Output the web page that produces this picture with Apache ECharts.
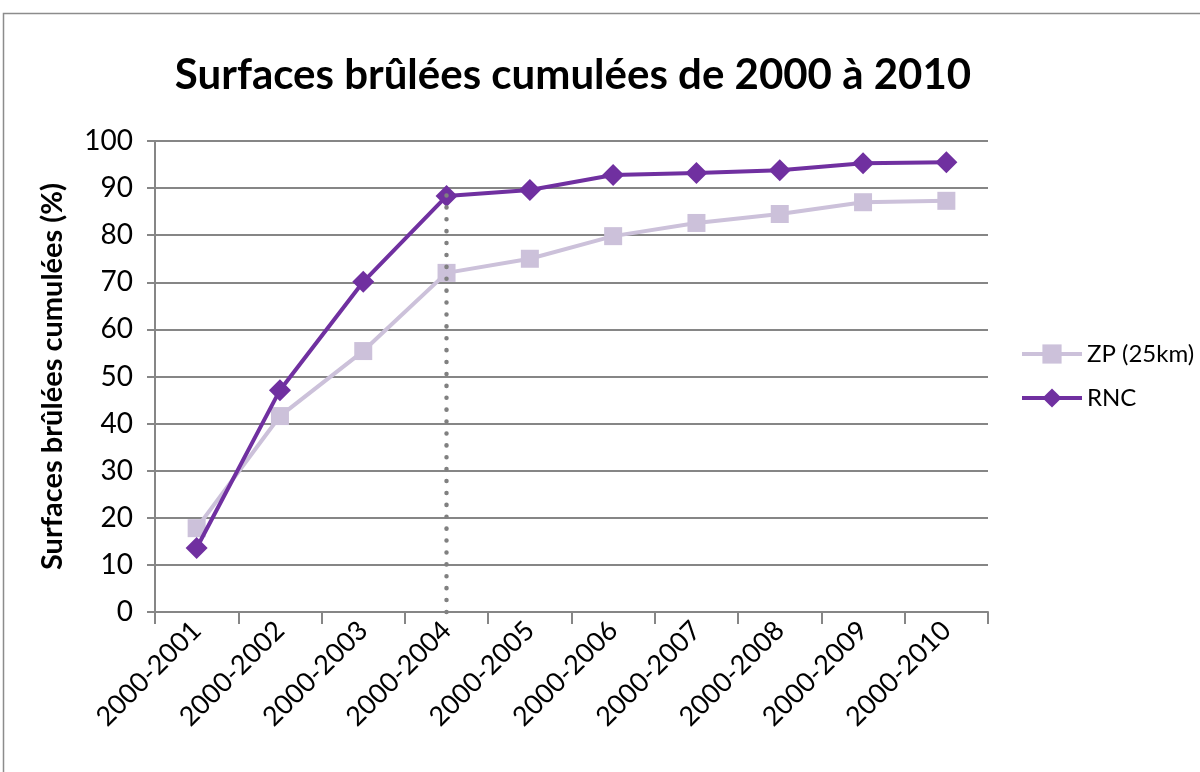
<!DOCTYPE html>
<html><head><meta charset="utf-8">
<script src="https://cdn.jsdelivr.net/npm/echarts@6/dist/echarts.min.js"></script>
<style>html,body{margin:0;padding:0;background:#fff}#c{width:1200px;height:772px}</style>
</head><body><div id="c"></div>
<script>
const categories = ['2000-2001','2000-2002','2000-2003','2000-2004','2000-2005','2000-2006','2000-2007','2000-2008','2000-2009','2000-2010'];
const zpValues = [17.8, 41.6, 55.4, 72.0, 75.0, 79.8, 82.6, 84.5, 87.0, 87.3];
const rncValues = [13.6, 47.1, 70.1, 88.3, 89.6, 92.8, 93.2, 93.8, 95.3, 95.5];
const markerCategory = '2000-2004';
const markerTop = 90;
const titleText = 'Surfaces brûlées cumulées de 2000 à 2010';
const yAxisName = 'Surfaces brûlées cumulées (%)';

const FONT = 'Lato, "Open Sans", sans-serif';
const chart = echarts.init(document.getElementById('c'));
chart.setOption({
  animation: false,
  backgroundColor: '#fff',
  graphic: [{type:'rect', shape:{x:3.5,y:13.5,width:1300,height:900}, style:{fill:'none', stroke:'#8c8c8c', lineWidth:1.5}, z:-1}],
  title: {text: titleText, left: 568, top: 49, textAlign: 'center',
    textStyle: {fontFamily: FONT, fontWeight: 'bold', fontSize: 42, color: '#000'}},
  legend: {orient: 'vertical', left: 1015, top: 337, itemGap: 20, itemWidth: 60, itemHeight: 24,
    lineStyle: {width: 4},
    textStyle: {fontFamily: FONT, fontSize: 24, color: '#000'},
    data: ['ZP (25km)', 'RNC']},
  grid: {left: 155, right: 212, top: 141, bottom: 160},
  xAxis: {type: 'category', data: categories, boundaryGap: true,
    axisLine: {lineStyle: {color: '#868686', width: 2}},
    axisTick: {show: true, alignWithLabel: false, length: 12, lineStyle: {color: '#868686', width: 2}},
    axisLabel: {rotate: 45, margin: 14, fontFamily: FONT, fontSize: 27, color: '#000', interval: 0}},
  yAxis: {type: 'value', min: 0, max: 100, interval: 10,
    name: yAxisName, nameLocation: 'middle', nameGap: 88, nameRotate: 90,
    nameTextStyle: {fontFamily: FONT, fontWeight: 'bold', fontSize: 29, color: '#000'},
    axisLine: {show: true, lineStyle: {color: '#868686', width: 2}},
    axisTick: {show: true, inside: false, length: 8, lineStyle: {color: '#868686', width: 2}},
    axisLabel: {fontFamily: FONT, fontSize: 28, color: '#000', margin: 22},
    splitLine: {lineStyle: {color: '#868686', width: 2}}},
  series: [
    {name: 'ZP (25km)', type: 'line', data: zpValues, symbol: 'rect', symbolSize: 18,
      lineStyle: {color: '#CCC1DA', width: 4}, itemStyle: {color: '#CCC1DA'}, z: 2},
    {name: 'RNC', type: 'line', data: rncValues, symbol: 'diamond', symbolSize: 22,
      lineStyle: {color: '#7030A0', width: 4}, itemStyle: {color: '#7030A0'}, z: 3,
      markLine: {silent: true, symbol: ['none','none'], label: {show: false},
        lineStyle: {color: '#808080', width: 4.5, type: [0.1, 11.8], cap: 'round'},
        data: [[{coord: [markerCategory, 0]}, {coord: [markerCategory, markerTop]}]]}}
  ]
});
</script></body></html>
